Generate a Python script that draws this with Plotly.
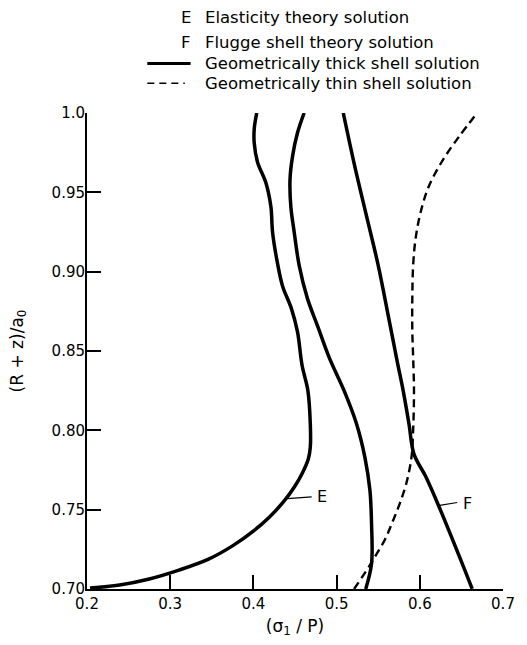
import plotly.graph_objects as go

# Stress ratio (sigma_1 / P) against normalised radius (R + z)/a0
elastic_x = [0.2036, 0.2392, 0.2748, 0.3105, 0.3461, 0.3758, 0.3995, 0.4197, 0.4363,
             0.4494, 0.4589, 0.4660, 0.4684, 0.4684, 0.4655, 0.4585, 0.4530, 0.4455,
             0.4350, 0.4280, 0.4230, 0.4210, 0.4150, 0.4050, 0.4010, 0.4010, 0.4040]
elastic_y = [0.7006, 0.7025, 0.7063, 0.7119, 0.7188, 0.7275, 0.7363, 0.7456, 0.7550,
             0.7644, 0.7731, 0.7819, 0.7894, 0.8040, 0.8250, 0.8410, 0.8620, 0.8770,
             0.8910, 0.9080, 0.9250, 0.9410, 0.9560, 0.9690, 0.9810, 0.9900, 1.0000]

thick_x = [0.461, 0.453, 0.447, 0.444, 0.445, 0.449, 0.455, 0.465, 0.477, 0.491,
           0.509, 0.524, 0.534, 0.540, 0.542, 0.542, 0.535]
thick_y = [1.000, 0.9875, 0.9725, 0.958, 0.941, 0.925, 0.904, 0.883, 0.866, 0.846,
           0.825, 0.804, 0.783, 0.7625, 0.741, 0.716, 0.700]

flugge_x = [0.508, 0.522, 0.536, 0.550, 0.562, 0.573, 0.580, 0.587, 0.593, 0.607,
            0.623, 0.651, 0.663]
flugge_y = [1.000, 0.966, 0.935, 0.904, 0.8725, 0.843, 0.825, 0.804, 0.785, 0.771,
            0.752, 0.716, 0.700]

thin_x = [0.521, 0.530, 0.540, 0.548, 0.558, 0.567, 0.576, 0.584, 0.590, 0.592,
          0.593, 0.592, 0.591, 0.591, 0.592, 0.595, 0.601, 0.611, 0.628, 0.647, 0.669]
thin_y = [0.700, 0.707, 0.715, 0.722, 0.731, 0.742, 0.754, 0.767, 0.783, 0.800,
          0.825, 0.846, 0.8625, 0.883, 0.904, 0.921, 0.9375, 0.954, 0.9706, 0.985, 1.000]

x_ticks = [0.2, 0.3, 0.4, 0.5, 0.6, 0.7]
x_tick_text = ["0.2", "0.3", "0.4", "0.5", "0.6", "0.7"]
y_ticks = [0.70, 0.75, 0.80, 0.85, 0.90, 0.95, 1.00]
y_tick_text = ["0.70", "0.75", "0.80", "0.85", "0.90", "0.95", "1.0"]

# Curve tags: leader line start/end and letter position
tag_names = ["E", "F"]
tag_line_x0 = [0.441, 0.622]
tag_line_y0 = [0.757, 0.7525]
tag_line_x1 = [0.470, 0.645]
tag_line_y1 = [0.758, 0.7545]
tag_text_x = [0.483, 0.657]
tag_text_y = [0.758, 0.754]

legend_lines = ["Elasticity theory solution",
                "Flugge shell theory solution",
                "Geometrically thick shell solution",
                "Geometrically thin shell solution"]
legend_keys = ["E", "F", "", ""]

FONT = "DejaVu Sans"
INK = "black"

fig = go.Figure()

solid = dict(color=INK, width=3.5, shape="spline", smoothing=1.0)
fig.add_trace(go.Scatter(x=elastic_x, y=elastic_y, mode="lines", line=solid))
fig.add_trace(go.Scatter(x=thick_x, y=thick_y, mode="lines", line=solid))
fig.add_trace(go.Scatter(x=flugge_x, y=flugge_y, mode="lines", line=solid))
fig.add_trace(go.Scatter(x=thin_x, y=thin_y, mode="lines",
                         line=dict(color=INK, width=2.4, dash="8px,5px",
                                   shape="spline", smoothing=1.0)))

for i, name in enumerate(tag_names):
    fig.add_shape(type="line", xref="x", yref="y",
                  x0=tag_line_x0[i], y0=tag_line_y0[i],
                  x1=tag_line_x1[i], y1=tag_line_y1[i],
                  line=dict(color=INK, width=1.2))
    fig.add_annotation(x=tag_text_x[i], y=tag_text_y[i], text=name,
                       showarrow=False, xanchor="center", yanchor="middle",
                       font=dict(family=FONT, size=16, color=INK))

# Key above the plot
key_y = [1.200, 1.148, 1.104, 1.0625]
for i, label in enumerate(legend_lines):
    fig.add_annotation(xref="paper", yref="paper", x=0.278, y=key_y[i],
                       text=label, showarrow=False, xanchor="left",
                       yanchor="middle",
                       font=dict(family=FONT, size=16.5, color=INK))
    if legend_keys[i]:
        fig.add_annotation(xref="paper", yref="paper", x=0.238, y=key_y[i],
                           text=legend_keys[i], showarrow=False,
                           xanchor="center", yanchor="middle",
                           font=dict(family=FONT, size=16.5, color=INK))
fig.add_shape(type="line", xref="paper", yref="paper",
              x0=0.145, x1=0.249, y0=key_y[2], y1=key_y[2],
              line=dict(color=INK, width=3))
fig.add_shape(type="line", xref="paper", yref="paper",
              x0=0.145, x1=0.235, y0=key_y[3], y1=key_y[3],
              line=dict(color=INK, width=1.5, dash="7px,5px"))

axis_common = dict(showline=True, linecolor=INK, linewidth=2, ticks="inside",
                   ticklen=14, tickwidth=1.5, tickcolor=INK, showgrid=False,
                   zeroline=False, mirror=False,
                   tickfont=dict(family=FONT, size=15, color=INK))

fig.update_xaxes(range=[0.2, 0.7], tickvals=x_ticks, ticktext=x_tick_text,
                 title=dict(text="(σ<sub>1</sub> / P)", standoff=8,
                            font=dict(family=FONT, size=17, color=INK)),
                 **axis_common)
fig.update_yaxes(range=[0.7, 1.0], tickvals=y_ticks, ticktext=y_tick_text,
                 ticklabelstandoff=-3,
                 title=dict(text="(R + z)/a<sub>0</sub>", standoff=24,
                            font=dict(family=FONT, size=17, color=INK)),
                 **axis_common)

fig.update_layout(width=527, height=645, showlegend=False,
                  plot_bgcolor="white", paper_bgcolor="white",
                  margin=dict(l=87, r=19, t=113, b=52),
                  font=dict(family=FONT, color=INK))

fig.write_html("out.html")
